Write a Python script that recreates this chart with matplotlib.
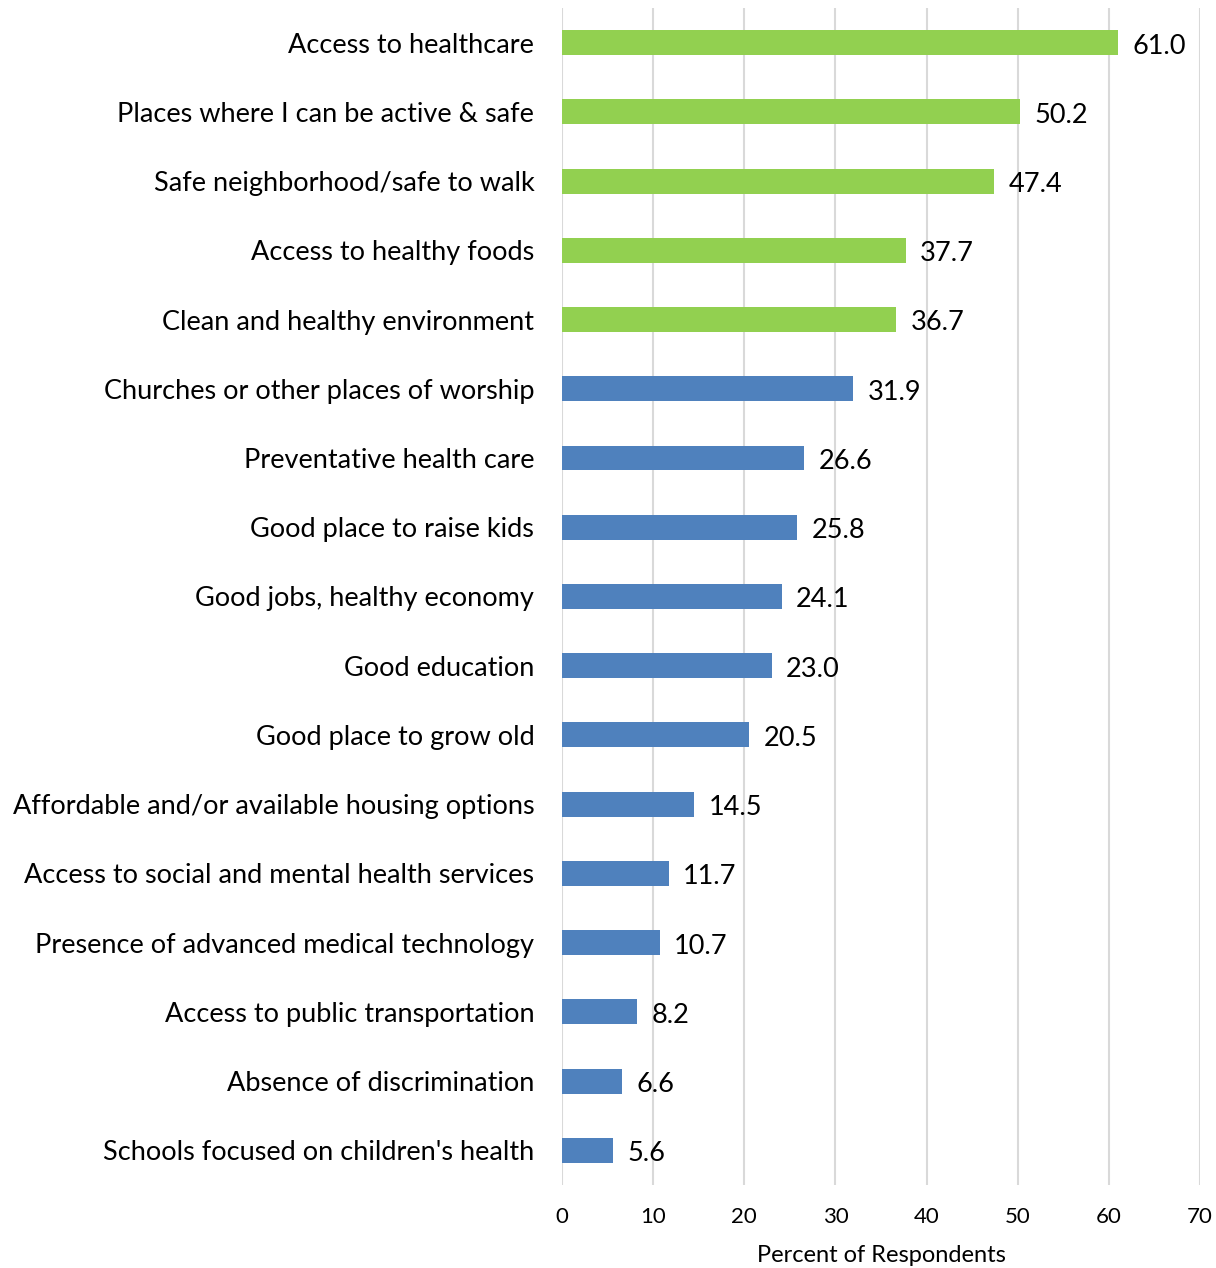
import numpy as np
import matplotlib.pyplot as plt

plt.rcParams['font.family'] = ['Lato', 'DejaVu Sans']

categories = [
    "Access to healthcare",
    "Places where I can be active & safe",
    "Safe neighborhood/safe to walk",
    "Access to healthy foods",
    "Clean and healthy environment",
    "Churches or other places of worship",
    "Preventative health care",
    "Good place to raise kids",
    "Good jobs, healthy economy",
    "Good education",
    "Good place to grow old",
    "Affordable and/or available housing options",
    "Access to social and mental health services",
    "Presence of advanced medical technology",
    "Access to public transportation",
    "Absence of discrimination",
    "Schools focused on children's health",
]
values = [61.0, 50.2, 47.4, 37.7, 36.7, 31.9, 26.6, 25.8, 24.1, 23.0,
          20.5, 14.5, 11.7, 10.7, 8.2, 6.6, 5.6]
top_n = 5  # top five highlighted in green

green = "#92D050"
blue = "#4F81BD"
colors = [green if i < top_n else blue for i in range(len(values))]

fig = plt.figure(figsize=(12.16, 12.68), dpi=100)
ax = fig.add_axes([0.4622, 0.0655, 0.5246, 0.9282])

y = np.arange(len(categories))
ax.barh(y, values, height=0.36, color=colors, zorder=3)

for yi, v in zip(y, values):
    ax.text(v + 1.6, yi + 0.05, f"{v:.1f}", va="center", ha="left", fontsize=19.5)

ax.set_xlim(0, 70)
ax.set_ylim(len(categories) - 0.5, -0.5)
ax.set_xticks(np.arange(0, 71, 10))
ax.set_yticks(y)
ax.set_yticklabels(categories, fontsize=19.5)
ax.tick_params(axis="x", labelsize=16, length=0, pad=16)
ax.tick_params(axis="y", length=0, pad=20)
ax.grid(axis="x", color="#D9D9D9", linewidth=1.5, zorder=0)
for s in ax.spines.values():
    s.set_visible(False)
ax.set_xlabel("Percent of Respondents", fontsize=17, labelpad=13)

fig.savefig("out.png", dpi=100)
